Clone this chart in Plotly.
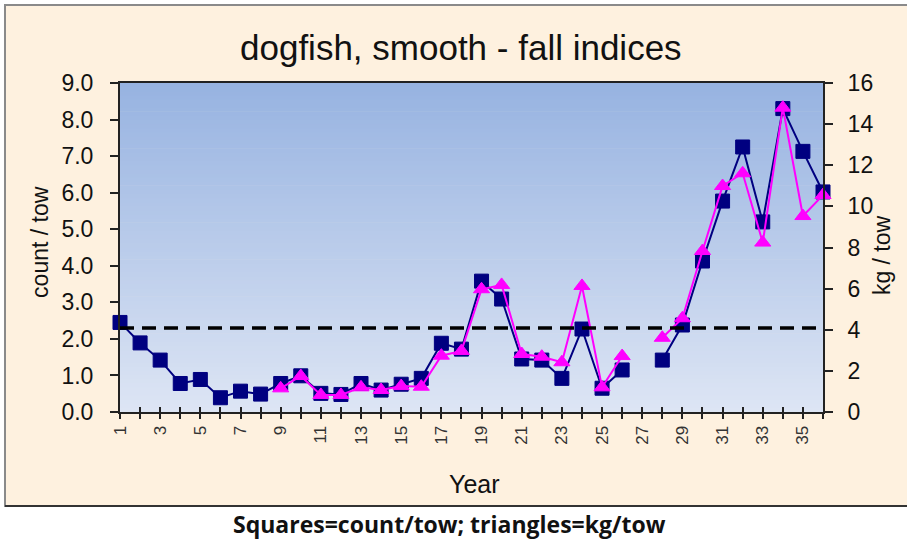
import plotly.graph_objects as go

# ---- data ----
years = list(range(1, 37))
count_per_tow = [2.45, 1.89, 1.42, 0.78, 0.89, 0.39, 0.57, 0.49, 0.78, 0.99,
                 0.51, 0.48, 0.78, 0.60, 0.76, 0.92, 1.88, 1.72, 3.58, 3.09,
                 1.45, 1.42, 0.92, 2.27, 0.65, 1.15, None, 1.42, 2.38, 4.13,
                 5.77, 7.25, 5.20, 8.30, 7.13, 6.02]
kg_per_tow = [None, None, None, None, None, None, None, None, 1.15, 1.75,
              0.83, 0.83, 1.20, 1.07, 1.26, 1.23, 2.74, 2.97, 5.97, 6.18,
              2.82, 2.69, 2.42, 6.13, 1.20, 2.72, None, 3.61, 4.56, 7.83,
              10.99, 11.61, 8.24, 14.80, 9.53, 10.55]
reference_count = 2.3
x_tick_labels = [str(y) if y % 2 == 1 else "" for y in years]

title_text = "dogfish, smooth - fall indices"
caption_text = "Squares=count/tow; triangles=kg/tow"

# ---- style ----
NAVY = "#000080"
MAGENTA = "#FF00FF"
CREAM = "#FEF1DF"
TOP_BLUE = (151, 179, 225)
BOT_BLUE = (221, 229, 244)
FONT = "Liberation Sans, Arial, sans-serif"

fig = go.Figure()

fig.add_trace(go.Scatter(
    x=years, y=count_per_tow, mode="lines+markers", name="count/tow",
    line=dict(color=NAVY, width=2),
    marker=dict(symbol="square", size=14, color=NAVY, line=dict(color=NAVY, width=1)),
    connectgaps=False, cliponaxis=False, xaxis="x", yaxis="y"))

fig.add_trace(go.Scatter(
    x=years, y=kg_per_tow, mode="lines+markers", name="kg/tow",
    line=dict(color=MAGENTA, width=2),
    marker=dict(symbol="triangle-up", size=14, color=MAGENTA, line=dict(color=MAGENTA, width=1)),
    connectgaps=False, cliponaxis=False, xaxis="x", yaxis="y2"))

shapes = []
# chart frame (cream)
shapes.append(dict(type="rect", xref="paper", yref="paper",
                   x0=-0.1636, x1=1.13, y0=-0.2857, y1=1.237,
                   fillcolor=CREAM, line=dict(color="#8a8a8a", width=2), layer="below"))
shapes.append(dict(type="line", xref="paper", yref="paper",
                   x0=-0.1636, x1=1.13, y0=-0.2857, y1=-0.2857,
                   line=dict(color="#333333", width=2), layer="below"))
# gradient plot background
n = 80
for i in range(n):
    t = i / (n - 1)
    c = tuple(round(BOT_BLUE[k] + (TOP_BLUE[k] - BOT_BLUE[k]) * t) for k in range(3))
    shapes.append(dict(type="rect", xref="paper", yref="paper",
                       x0=0, x1=1, y0=i / n, y1=(i + 1) / n + 0.002,
                       fillcolor="rgb(%d,%d,%d)" % c, line=dict(width=0), layer="below"))
# dashed reference line
shapes.append(dict(type="line", xref="paper", yref="y", x0=0, x1=1,
                   y0=reference_count, y1=reference_count,
                   line=dict(color="black", width=3.5, dash="14px,8px"), layer="above"))

annotations = [
    dict(text=title_text, xref="paper", yref="paper", x=0.485, y=1.109,
         showarrow=False, font=dict(family=FONT, size=35, color="#111111"),
         xanchor="center", yanchor="middle"),
    dict(text="count / tow", xref="paper", yref="paper", x=-0.1138, y=0.517,
         showarrow=False, textangle=-90, font=dict(family=FONT, size=23, color="#111111"),
         xanchor="center", yanchor="middle"),
    dict(text="kg / tow", xref="paper", yref="paper", x=1.084, y=0.477,
         showarrow=False, textangle=-90, font=dict(family=FONT, size=23, color="#111111"),
         xanchor="center", yanchor="middle"),
    dict(text="Year", xref="paper", yref="paper", x=0.5036, y=-0.219,
         showarrow=False, font=dict(family=FONT, size=25, color="#111111"),
         xanchor="center", yanchor="middle"),
    dict(text="<b>" + caption_text + "</b>", xref="paper", yref="paper", x=0.469, y=-0.340,
         showarrow=False, font=dict(family="Open Sans, sans-serif", size=23, color="#111111"),
         xanchor="center", yanchor="middle"),
]

fig.update_layout(
    width=907, height=542,
    margin=dict(l=120, r=84, t=83, b=130),
    paper_bgcolor="white", plot_bgcolor="rgba(0,0,0,0)",
    showlegend=False,
    shapes=shapes, annotations=annotations,
    xaxis=dict(range=[1, 36], tickmode="array", tickvals=years, ticktext=x_tick_labels,
               tickangle=-90, ticks="outside", ticklen=5, tickwidth=2, tickcolor="#222",
               showline=True, linecolor="#222", linewidth=2, mirror=True,
               showgrid=False, zeroline=False,
               tickfont=dict(family=FONT, size=17, color="#333333")),
    xaxis2=dict(range=[1, 36], overlaying="x", anchor="y", tickmode="array", tickvals=years,
                ticks="inside", ticklen=5, tickwidth=2, tickcolor="#222",
                showticklabels=False, showgrid=False, zeroline=False, showline=False,
                side="bottom"),
    yaxis=dict(range=[0, 9], dtick=1, tickformat=".1f", ticks="outside", ticklen=8,
               tickwidth=2, tickcolor="#222", showline=True, linecolor="#222", linewidth=2,
               showgrid=False, zeroline=False, ticklabelstandoff=12,
               tickfont=dict(family=FONT, size=23, color="#111111")),
    yaxis2=dict(range=[0, 16], dtick=2, overlaying="y", side="right", anchor="x",
                ticks="outside", ticklen=8, tickwidth=2, tickcolor="#222",
                showline=True, linecolor="#222", linewidth=2,
                showgrid=False, zeroline=False, ticklabelstandoff=10,
                tickfont=dict(family=FONT, size=23, color="#111111")),
)

# invisible trace to activate the inside tick set of xaxis2
fig.add_trace(go.Scatter(x=[years[0]], y=[None], xaxis="x2", yaxis="y",
                         mode="markers", showlegend=False, hoverinfo="skip"))

fig.write_html("out.html", config={"displayModeBar": False},
               post_script="document.body.style.margin='0';document.body.style.overflow='hidden';")
